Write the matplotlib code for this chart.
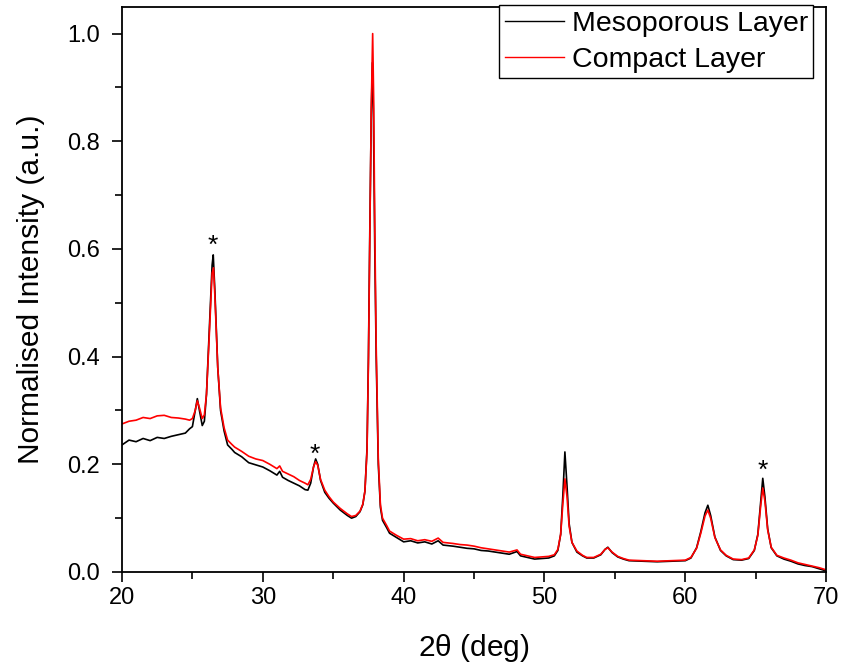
import matplotlib.pyplot as plt

plt.rcParams['font.family'] = ['Liberation Sans', 'DejaVu Sans']

# 2theta (deg) and normalised intensity
meso_x = [20.0, 20.5, 21.0, 21.5, 22.0, 22.5, 23.0, 23.5, 24.0, 24.5, 24.8, 25.0,
          25.2, 25.35, 25.5, 25.7, 25.85, 26.0, 26.2, 26.4, 26.48, 26.6, 26.8, 27.0,
          27.25, 27.5, 27.8, 28.0, 28.5, 29.0, 29.5, 30.0, 30.5, 31.0, 31.2, 31.4,
          31.8, 32.2, 32.6, 33.0, 33.2, 33.4, 33.6, 33.75, 33.9, 34.1, 34.4, 34.7,
          35.0, 35.5, 36.0, 36.3, 36.6, 36.9, 37.1, 37.25, 37.4, 37.5, 37.6, 37.7,
          37.78, 37.85, 37.95, 38.05, 38.2, 38.35, 38.5, 38.8, 39.0, 39.5, 40.0, 40.5,
          41.0, 41.5, 42.0, 42.45, 42.8, 43.5, 44.0, 44.5, 45.0, 45.5, 46.0, 46.5,
          47.0, 47.5, 48.05, 48.3, 48.8, 49.3, 49.8, 50.3, 50.7, 50.95, 51.15, 51.3,
          51.45, 51.6, 51.75, 51.95, 52.3, 52.7, 53.0, 53.5, 54.0, 54.3, 54.5, 54.8,
          55.2, 55.6, 56.0, 57.0, 58.0, 59.0, 60.0, 60.4, 60.8, 61.1, 61.4, 61.6,
          61.8, 62.1, 62.5, 62.9, 63.4, 64.0, 64.5, 64.9, 65.15, 65.35, 65.5, 65.65,
          65.85, 66.1, 66.5, 67.0, 67.5, 68.0, 68.5, 69.0, 69.5, 70.0]
meso_y = [0.236, 0.245, 0.242, 0.248, 0.244, 0.250, 0.248, 0.252, 0.255, 0.258, 0.266, 0.270,
          0.300, 0.322, 0.300, 0.272, 0.280, 0.330, 0.450, 0.570, 0.589, 0.520, 0.380, 0.300,
          0.262, 0.236, 0.228, 0.222, 0.214, 0.203, 0.199, 0.195, 0.188, 0.180, 0.187, 0.176,
          0.170, 0.165, 0.160, 0.153, 0.152, 0.165, 0.195, 0.210, 0.200, 0.170, 0.148, 0.137,
          0.128, 0.115, 0.105, 0.100, 0.103, 0.112, 0.125, 0.150, 0.230, 0.400, 0.640, 0.850,
          0.946, 0.860, 0.600, 0.400, 0.200, 0.120, 0.096, 0.082, 0.072, 0.064, 0.056, 0.058,
          0.054, 0.056, 0.052, 0.058, 0.050, 0.048, 0.046, 0.044, 0.043, 0.040, 0.039, 0.037,
          0.035, 0.033, 0.038, 0.030, 0.027, 0.024, 0.025, 0.026, 0.030, 0.040, 0.070, 0.140,
          0.223, 0.160, 0.090, 0.055, 0.037, 0.030, 0.026, 0.026, 0.032, 0.042, 0.046, 0.036,
          0.028, 0.024, 0.021, 0.020, 0.019, 0.020, 0.021, 0.026, 0.045, 0.075, 0.110, 0.124,
          0.105, 0.065, 0.040, 0.030, 0.023, 0.022, 0.025, 0.040, 0.070, 0.130, 0.174, 0.140,
          0.080, 0.045, 0.030, 0.024, 0.020, 0.015, 0.012, 0.010, 0.006, 0.002]

comp_x = [20.0, 20.5, 21.0, 21.5, 22.0, 22.5, 23.0, 23.5, 24.0, 24.5, 24.8, 25.0,
          25.2, 25.35, 25.5, 25.7, 25.85, 26.0, 26.2, 26.4, 26.5, 26.6, 26.8, 27.0,
          27.25, 27.5, 27.8, 28.0, 28.5, 29.0, 29.5, 30.0, 30.5, 31.0, 31.2, 31.4,
          31.8, 32.2, 32.6, 33.0, 33.2, 33.4, 33.6, 33.75, 33.9, 34.1, 34.4, 34.7,
          35.0, 35.5, 36.0, 36.3, 36.6, 36.9, 37.1, 37.25, 37.4, 37.5, 37.6, 37.7,
          37.8, 37.87, 37.95, 38.05, 38.2, 38.35, 38.5, 38.8, 39.0, 39.5, 40.0, 40.5,
          41.0, 41.5, 42.0, 42.45, 42.8, 43.5, 44.0, 44.5, 45.0, 45.5, 46.0, 46.5,
          47.0, 47.5, 48.05, 48.3, 48.8, 49.3, 49.8, 50.3, 50.7, 50.95, 51.15, 51.3,
          51.45, 51.6, 51.75, 51.95, 52.3, 52.7, 53.0, 53.5, 54.0, 54.3, 54.5, 54.8,
          55.2, 55.6, 56.0, 57.0, 58.0, 59.0, 60.0, 60.4, 60.8, 61.1, 61.4, 61.6,
          61.8, 62.1, 62.5, 62.9, 63.4, 64.0, 64.5, 64.9, 65.15, 65.35, 65.5, 65.65,
          65.85, 66.1, 66.5, 67.0, 67.5, 68.0, 68.5, 69.0, 69.5, 70.0]
comp_y = [0.275, 0.280, 0.282, 0.287, 0.285, 0.290, 0.291, 0.287, 0.286, 0.284, 0.282, 0.285,
          0.300, 0.318, 0.305, 0.285, 0.292, 0.330, 0.440, 0.555, 0.565, 0.510, 0.380, 0.305,
          0.268, 0.245, 0.237, 0.232, 0.224, 0.215, 0.210, 0.207, 0.200, 0.192, 0.197, 0.187,
          0.182, 0.177, 0.170, 0.165, 0.162, 0.172, 0.195, 0.205, 0.198, 0.172, 0.152, 0.140,
          0.130, 0.118, 0.108, 0.103, 0.105, 0.113, 0.126, 0.150, 0.225, 0.390, 0.630, 0.860,
          1.000, 0.880, 0.640, 0.420, 0.210, 0.125, 0.100, 0.086, 0.076, 0.068, 0.061, 0.062,
          0.058, 0.060, 0.057, 0.063, 0.055, 0.053, 0.051, 0.050, 0.048, 0.045, 0.043, 0.041,
          0.039, 0.037, 0.041, 0.033, 0.030, 0.027, 0.028, 0.029, 0.032, 0.042, 0.070, 0.125,
          0.173, 0.140, 0.085, 0.055, 0.039, 0.031, 0.027, 0.027, 0.033, 0.042, 0.045, 0.037,
          0.029, 0.025, 0.022, 0.021, 0.020, 0.021, 0.022, 0.027, 0.044, 0.072, 0.104, 0.115,
          0.100, 0.064, 0.041, 0.031, 0.024, 0.023, 0.026, 0.041, 0.068, 0.122, 0.156, 0.132,
          0.078, 0.046, 0.031, 0.026, 0.022, 0.017, 0.014, 0.011, 0.008, 0.004]

# peaks marked with an asterisk
star_x = [26.48, 33.72, 65.5]
star_y = [0.606, 0.218, 0.188]

fig = plt.figure(figsize=(8.43, 6.69), dpi=100)
ax = fig.add_axes([0.1447, 0.145, 0.8353, 0.845])

ax.plot(meso_x, meso_y, color='black', lw=1.2, label='Mesoporous Layer')
ax.plot(comp_x, comp_y, color='red', lw=1.2, label='Compact Layer')

for sx, sy in zip(star_x, star_y):
    ax.text(sx, sy, '*', fontsize=19, ha='center', va='center')

ax.set_xlim(20, 70)
ax.set_ylim(0, 1.05)
ax.set_xticks([20, 30, 40, 50, 60, 70])
ax.set_xticks([25, 35, 45, 55, 65], minor=True)
ax.set_yticks([0.0, 0.2, 0.4, 0.6, 0.8, 1.0])
ax.set_yticks([0.1, 0.3, 0.5, 0.7, 0.9], minor=True)
ax.tick_params(which='major', direction='out', length=7, width=1.2, labelsize=17)
ax.tick_params(which='minor', direction='out', length=5, width=1.2)
ax.tick_params(axis='y', which='major', pad=9)
for s in ax.spines.values():
    s.set_linewidth(1.3)

ax.set_xlabel(r'2$\mathregular{\theta}$ (deg)', fontsize=21.5, labelpad=17)
ax.set_ylabel('Normalised Intensity (a.u.)', fontsize=21.5, labelpad=16)

leg = ax.legend(loc='upper right', bbox_to_anchor=(0.982, 1.003), borderaxespad=0,
                fontsize=20.5, fancybox=False, framealpha=1, edgecolor='black',
                handlelength=2.1, handletextpad=0.25, borderpad=0.2, labelspacing=0.35)
leg.get_frame().set_linewidth(1.0)
for line in leg.get_lines():
    line.set_linewidth(1.0)

fig.savefig('out.png', dpi=100)
